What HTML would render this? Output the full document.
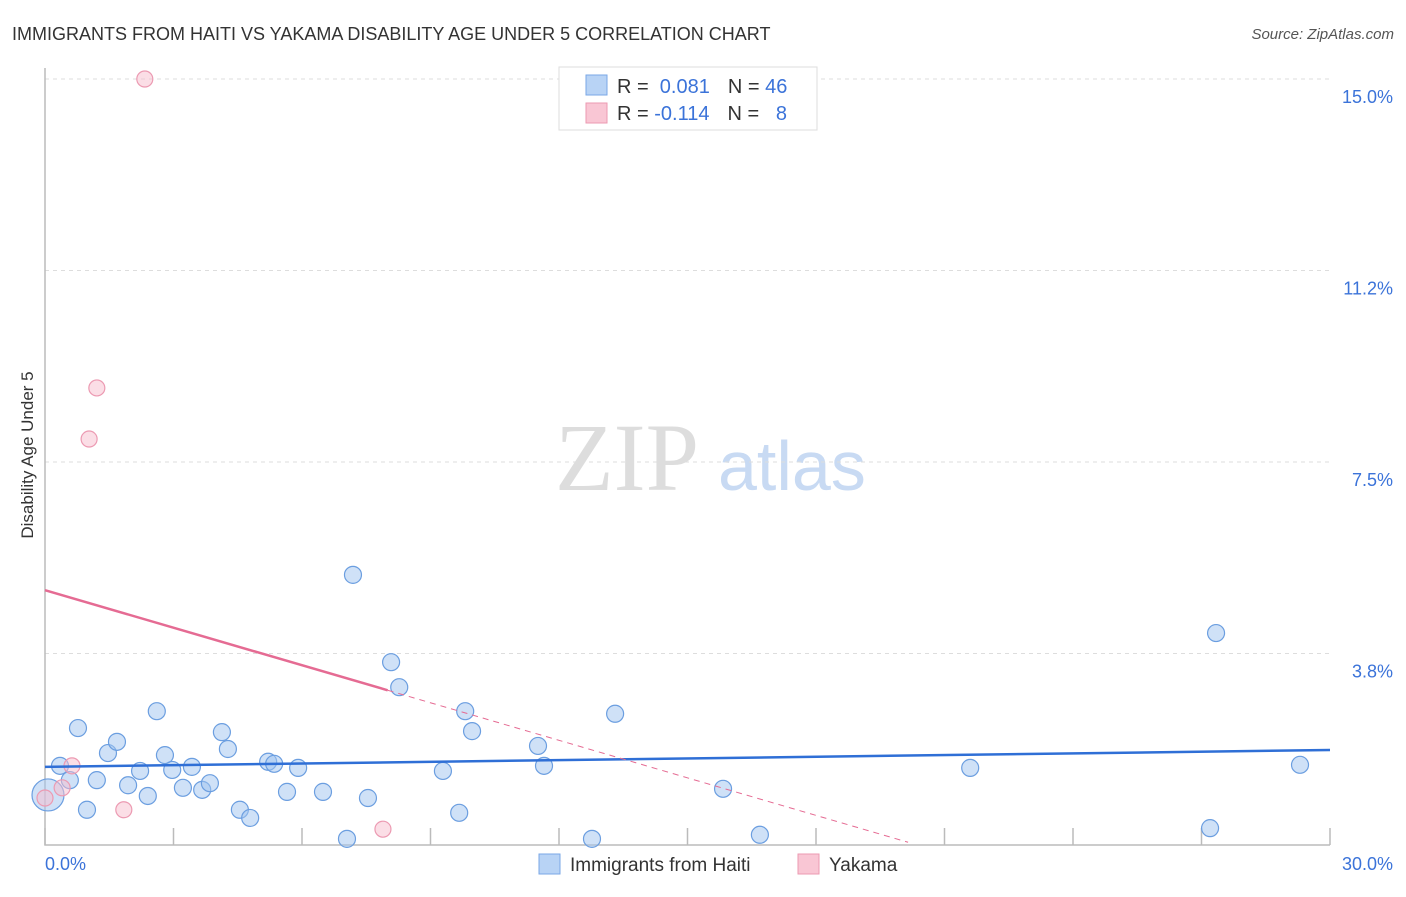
<!DOCTYPE html>
<html><head><meta charset="utf-8"><style>
body{margin:0;background:#fff;font-family:"Liberation Sans",sans-serif}
</style></head><body>
<svg id="c" width="1406" height="892" xmlns="http://www.w3.org/2000/svg">
<text x="12" y="40" font-size="18" fill="#333">IMMIGRANTS FROM HAITI VS YAKAMA DISABILITY AGE UNDER 5 CORRELATION CHART</text>
<text x="1394" y="39" font-size="15" fill="#555" font-style="italic" text-anchor="end">Source: ZipAtlas.com</text>
<text x="33" y="455" font-size="17" fill="#333" text-anchor="middle" transform="rotate(-90 33 455)">Disability Age Under 5</text>
<text x="555" y="490" font-size="96" fill="#ddd" font-family="Liberation Serif,serif">ZIP</text>
<text x="718" y="490" font-size="70" fill="#c8daf3">atlas</text>
<g id="grid"></g><g id="pts"></g><g id="lines"></g>
<g>
<rect x="559" y="67" width="258" height="63" fill="#fff" stroke="#ddd"/>
<rect x="586" y="75" width="21" height="20" fill="#b8d3f5" stroke="#7aa7e6"/>
<rect x="586" y="103" width="21" height="20" fill="#f9c6d4" stroke="#ec9ab2"/>
<text x="617" y="93" font-size="20" fill="#333">R = <tspan fill="#3b73d9">&#160;0.081</tspan><tspan dx="18">N = </tspan><tspan fill="#3b73d9">46</tspan></text>
<text x="617" y="120" font-size="20" fill="#333">R = <tspan fill="#3b73d9">-0.114</tspan><tspan dx="18">N = </tspan><tspan fill="#3b73d9">&#160;&#160;8</tspan></text>
</g>
<g>
<rect x="539" y="854" width="21" height="20" fill="#b8d3f5" stroke="#7aa7e6"/>
<text x="570" y="871" font-size="19" fill="#333">Immigrants from Haiti</text>
<rect x="798" y="854" width="21" height="20" fill="#f9c6d4" stroke="#ec9ab2"/>
<text x="829" y="871" font-size="19" fill="#333">Yakama</text>
</g>
<text x="45" y="870" font-size="18" fill="#3b73d9">0.0%</text>
<text x="1393" y="870" font-size="18" fill="#3b73d9" text-anchor="end">30.0%</text>
</svg>
<script>
const yTicks=[15.0,11.25,7.5,3.75];
const yTickLabels=["15.0%","11.2%","7.5%","3.8%"];
const xTicks=[0,3,6,9,12,15,18,21,24,27,30];
const haitiX=[0.07,0.35,0.58,0.98,0.77,1.21,1.47,1.68,1.94,2.22,2.40,2.61,2.80,2.97,3.22,3.43,3.67,3.85,4.13,4.27,4.55,4.79,5.21,5.35,5.65,5.91,6.49,7.05,7.19,7.54,8.08,8.27,9.29,9.67,9.81,9.97,11.51,11.65,12.77,13.31,15.83,16.69,21.60,27.20,27.34,29.30];
const haitiY=[0.98,1.55,1.27,0.69,2.29,1.27,1.80,2.02,1.17,1.45,0.96,2.62,1.76,1.47,1.12,1.53,1.08,1.21,2.21,1.88,0.69,0.53,1.63,1.59,1.04,1.51,1.04,0.12,5.29,0.92,3.58,3.09,1.45,0.63,2.62,2.23,1.94,1.55,0.12,2.57,1.10,0.20,1.51,0.33,4.15,1.57];
const yakX=[0,0.40,0.63,1.21,1.03,1.84,2.33,7.89];
const yakY=[0.92,1.12,1.55,8.95,7.95,0.69,15.0,0.31];
const haitiTrend=[1.53,1.86];
const yakTrend=[4.99,0.245];
const X=v=>45+v*(1285/30), Y=v=>845-v*(766/15);
const NS="http://www.w3.org/2000/svg";
function mk(t,a,p){const e=document.createElementNS(NS,t);for(const k in a)e.setAttribute(k,a[k]);p.appendChild(e);return e;}
const g=document.getElementById('grid');
yTicks.forEach((v,i)=>{
 const l=mk('line',{x1:45,x2:1330,y1:Y(v),y2:Y(v),stroke:'#ddd','stroke-dasharray':'4 4'},g);
 
 
 const t=mk('text',{x:1393,y:Y(v)+24,'font-size':18,fill:'#3b73d9','text-anchor':'end'},g);
 t.textContent=yTickLabels[i];
 
 
});
const ax=mk('path',{d:`M45,68 V845 H1330`,fill:'none',stroke:'#bbb','stroke-width':1.5},g);


xTicks.forEach(v=>{const t=mk('line',{x1:X(v),x2:X(v),y1:828,y2:845,stroke:'#bbb','stroke-width':1.5},g);
 
 });
const p=document.getElementById('pts');
haitiX.forEach((v,i)=>{const c=mk('circle',{cx:X(v),cy:Y(haitiY[i]),r:i==0?16:8.5,fill:'rgba(160,196,240,0.5)',stroke:'#6b9ee0','stroke-width':1.2},p);
 
 });
yakX.forEach((v,i)=>{const c=mk('circle',{cx:X(v),cy:Y(yakY[i]),r:8,fill:'rgba(248,190,206,0.5)',stroke:'#ec9ab2','stroke-width':1.2},p);
 
 });
const L=document.getElementById('lines');
const b=mk('line',{x1:X(0),y1:Y(haitiTrend[0]),x2:X(30),y2:Y(haitiTrend[1]),stroke:'#2f6fd6','stroke-width':2.5},L);


const yk=x=>yakTrend[0]-yakTrend[1]*x;
const s=mk('line',{x1:X(0),y1:Y(yk(0)),x2:X(8),y2:Y(yk(8)),stroke:'#e56b93','stroke-width':2.5},L);


const d=mk('line',{x1:X(8),y1:Y(yk(8)),x2:X(20.15),y2:Y(yk(20.15)),stroke:'#e56b93','stroke-width':1,'stroke-dasharray':'6 5'},L);


</script>
</body></html>
